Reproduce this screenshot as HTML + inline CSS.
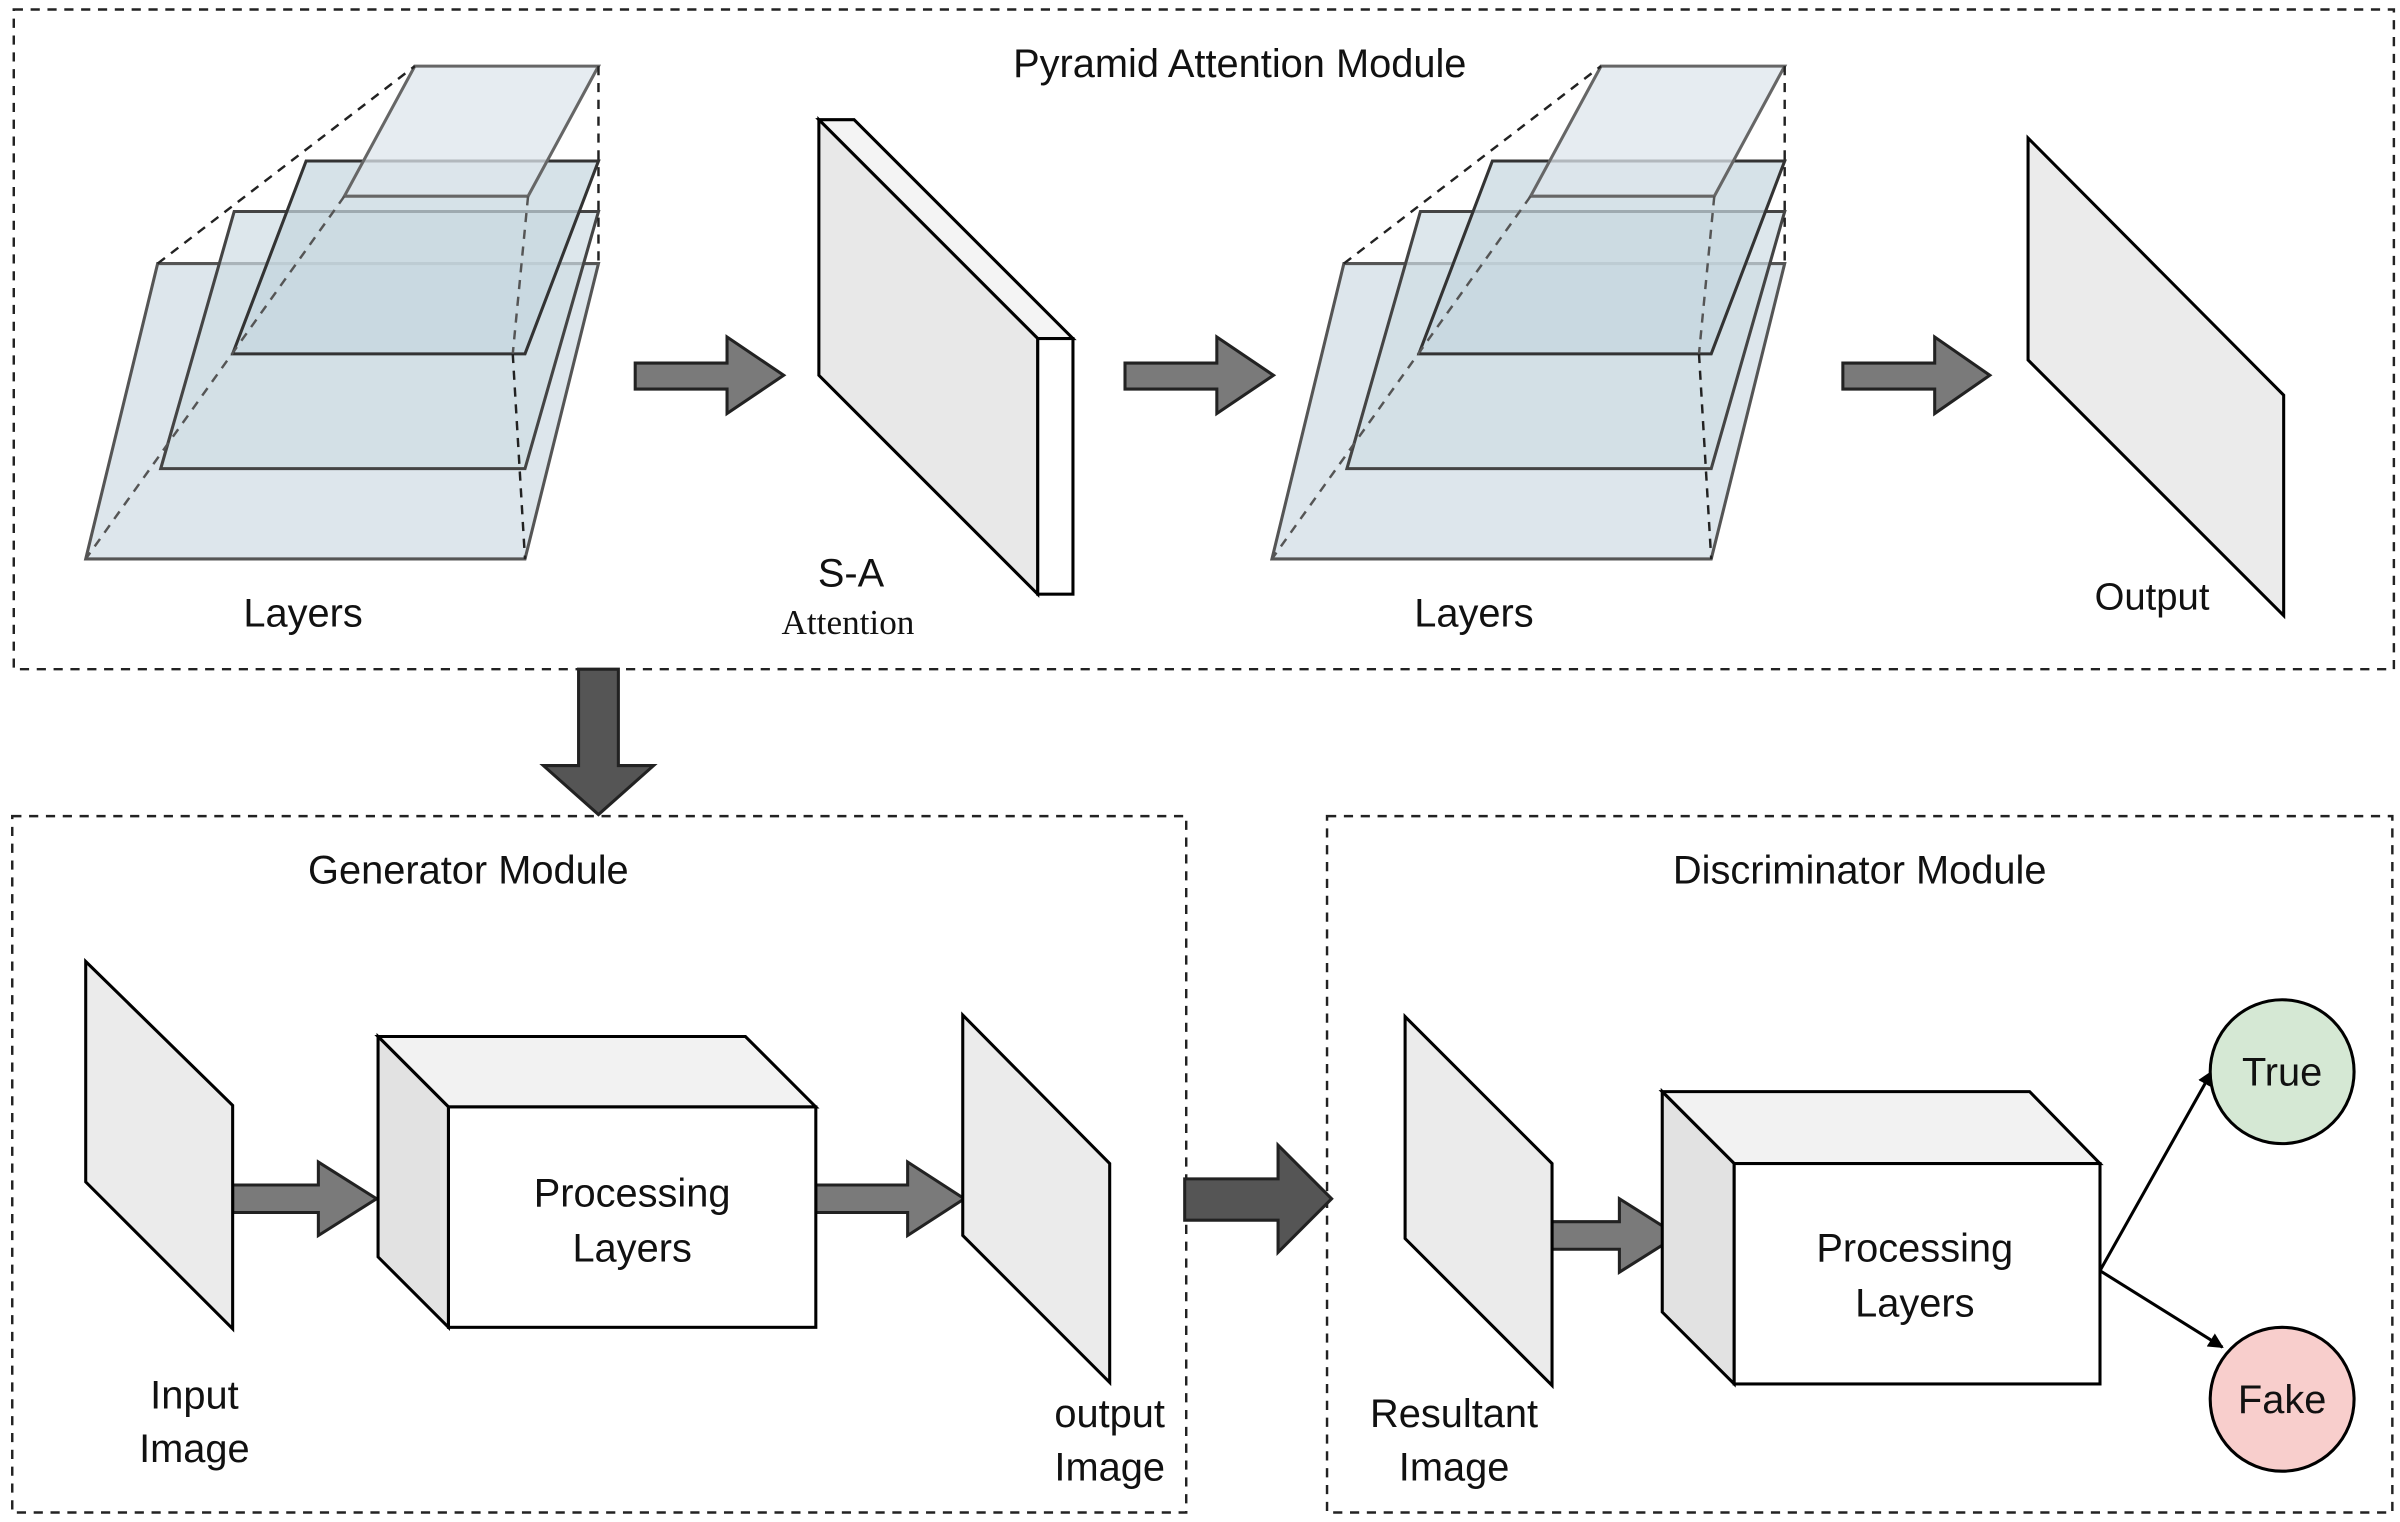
<!DOCTYPE html>
<html><head><meta charset="utf-8"><style>
html,body{margin:0;padding:0;background:#fff;}
svg{display:block;}
text{font-family:"Liberation Sans",sans-serif;fill:#111;}
</style></head><body>
<svg width="2400" height="1522" viewBox="0 0 1568 994" xmlns="http://www.w3.org/2000/svg">
<defs>
<marker id="ah" markerWidth="10" markerHeight="10" refX="9" refY="5" orient="auto" markerUnits="userSpaceOnUse" viewBox="0 0 10 10"><path d="M0,0 L10,5 L0,10 Z" fill="#000"/></marker>
<g id="pyr">
  <polygon points="103,172 391,172 343,365 56,365" fill="#dde6ec" stroke="#555" stroke-width="2"/>
  <polygon points="153,138 391,138 343,306 105,306" fill="#cfdde4" fill-opacity="0.7" stroke="#444" stroke-width="2"/>
  <polygon points="200,105 391,105 343,231 152,231" fill="#c5d6de" fill-opacity="0.7" stroke="#333" stroke-width="2"/>
  <polygon points="271,43 391,43 345,128 225,128" fill="#dde6ec" fill-opacity="0.75" stroke="#666" stroke-width="2"/>
  <g stroke="#222" stroke-width="1.6" stroke-dasharray="6,5" fill="none">
    <line x1="103" y1="172" x2="271" y2="43"/>
    <line x1="391" y1="43" x2="391" y2="172"/>
    <line x1="225" y1="128" x2="56" y2="365" stroke="#555"/>
    <line x1="345" y1="128" x2="335" y2="231" stroke="#555"/>
    <line x1="335" y1="231" x2="343" y2="365"/>
  </g>
</g>
</defs>
<g fill="none" stroke="#222" stroke-width="1.6" stroke-dasharray="6,5">
<rect x="9" y="6" width="1555" height="431"/>
<rect x="8" y="533" width="767" height="455"/>
<rect x="867" y="533" width="696" height="455"/>
</g>
<text x="810" y="50" font-size="26" text-anchor="middle">Pyramid Attention Module</text>
<use href="#pyr"/>
<use href="#pyr" transform="translate(775,0)"/>
<polygon points="535,78 558,78 701,221 678,221" fill="#f4f4f4" stroke="#000" stroke-width="2"/>
<polygon points="535,78 678,221 678,388 535,245" fill="#e8e8e8" stroke="#000" stroke-width="2"/>
<rect x="678" y="221" width="23" height="167" fill="#fff" stroke="#000" stroke-width="2"/>
<polygon points="1325,90 1492,258 1492,402 1325,235" fill="#ebebeb" stroke="#000" stroke-width="2"/>
<g fill="#7a7a7a" stroke="#222" stroke-width="2">
<polygon points="415,237 475,237 475,220 512,245 475,270 475,254 415,254"/>
<polygon points="735,237 795,237 795,220 832,245 795,270 795,254 735,254"/>
<polygon points="1204,237 1264,237 1264,220 1300,245 1264,270 1264,254 1204,254"/>
<polygon points="378,437 404,437 404,500 427,500 391,532 355,500 378,500" fill="#555"/>
<polygon points="152,774 208,774 208,759 246,783 208,807 208,792 152,792"/>
<polygon points="533,774 593,774 593,759 630,783 593,807 593,792 533,792"/>
<polygon points="774,770 835,770 835,748 870,783 835,818 835,797 774,797" fill="#555"/>
<polygon points="1014,798 1058,798 1058,783 1096,807 1058,831 1058,816 1014,816"/>
</g>
<text x="198" y="409" font-size="26" text-anchor="middle">Layers</text>
<text x="556" y="383" font-size="26" text-anchor="middle">S-A</text>
<text x="554" y="414" font-size="23" text-anchor="middle" style="font-family:'Liberation Serif',serif">Attention</text>
<text x="963" y="409" font-size="26" text-anchor="middle">Layers</text>
<text x="1406" y="398" font-size="25" text-anchor="middle">Output</text>
<text x="306" y="577" font-size="26" text-anchor="middle">Generator Module</text>
<text x="1215" y="577" font-size="26" text-anchor="middle">Discriminator Module</text>
<polygon points="56,628 152,722 152,868 56,772" fill="#ebebeb" stroke="#000" stroke-width="2"/>
<polygon points="247,677 487,677 533,723 293,723" fill="#f2f2f2" stroke="#000" stroke-width="2"/>
<polygon points="247,677 293,723 293,867 247,821" fill="#e2e2e2" stroke="#000" stroke-width="2"/>
<rect x="293" y="723" width="240" height="144" fill="#fff" stroke="#000" stroke-width="2"/>
<text x="413" y="788" font-size="26" text-anchor="middle">Processing</text>
<text x="413" y="824" font-size="26" text-anchor="middle">Layers</text>
<polygon points="629,663 725,760 725,903 629,807" fill="#ebebeb" stroke="#000" stroke-width="2"/>
<text x="127" y="920" font-size="26" text-anchor="middle">Input</text>
<text x="127" y="955" font-size="26" text-anchor="middle">Image</text>
<text x="725" y="932" font-size="26" text-anchor="middle">output</text>
<text x="725" y="967" font-size="26" text-anchor="middle">Image</text>
<polygon points="918,664 1014,760 1014,905 918,809" fill="#ebebeb" stroke="#000" stroke-width="2"/>
<polygon points="1086,713 1326,713 1372,760 1133,760" fill="#f2f2f2" stroke="#000" stroke-width="2"/>
<polygon points="1086,713 1133,760 1133,904 1086,857" fill="#e2e2e2" stroke="#000" stroke-width="2"/>
<rect x="1133" y="760" width="239" height="144" fill="#fff" stroke="#000" stroke-width="2"/>
<text x="1251" y="824" font-size="26" text-anchor="middle">Processing</text>
<text x="1251" y="860" font-size="26" text-anchor="middle">Layers</text>
<text x="950" y="932" font-size="26" text-anchor="middle">Resultant</text>
<text x="950" y="967" font-size="26" text-anchor="middle">Image</text>
<line x1="1372" y1="830" x2="1445" y2="700" stroke="#000" stroke-width="2" marker-end="url(#ah)"/>
<line x1="1372" y1="830" x2="1452" y2="880" stroke="#000" stroke-width="2" marker-end="url(#ah)"/>
<circle cx="1491" cy="700" r="47" fill="#d5e8d4" stroke="#000" stroke-width="2"/>
<circle cx="1491" cy="914" r="47" fill="#f8cecc" stroke="#000" stroke-width="2"/>
<text x="1491" y="709" font-size="26" text-anchor="middle">True</text>
<text x="1491" y="923" font-size="26" text-anchor="middle">Fake</text>
</svg>
</body></html>
